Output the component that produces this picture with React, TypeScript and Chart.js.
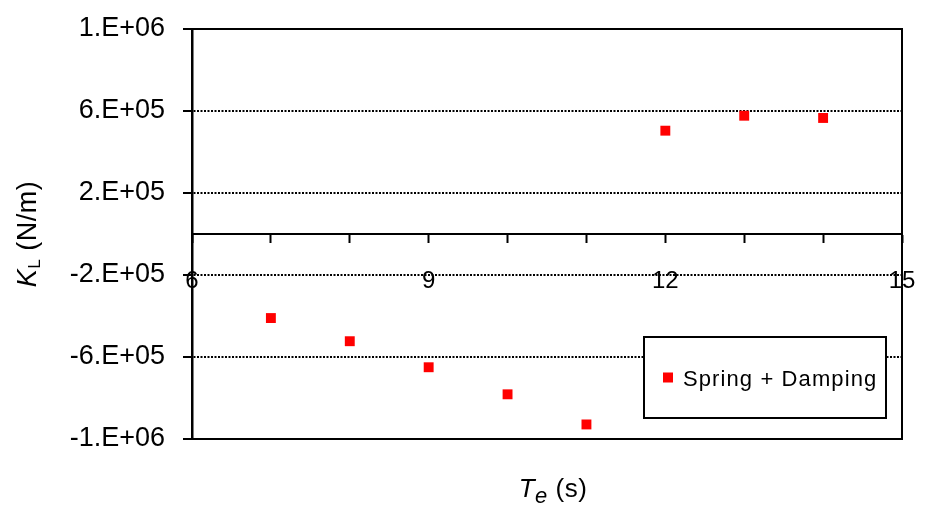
import React, { useEffect, useRef } from 'react';
import { Chart, registerables } from 'chart.js';

Chart.register(...registerables);

// ---- data ----
const periods = [7, 8, 9, 10, 11, 12, 13, 14];
const stiffness = [-4.1e5, -5.23e5, -6.5e5, -7.82e5, -9.29e5, 5.04e5, 5.77e5, 5.66e5];
const seriesLabel = 'Spring + Damping';
const yTickValues = [-1e6, -6e5, -2e5, 2e5, 6e5, 1e6];
const yTickLabels = ['-1.E+06', '-6.E+05', '-2.E+05', '2.E+05', '6.E+05', '1.E+06'];
const xMajorTicks = [6, 9, 12, 15];
const xMin = 6;
const xMax = 15;
const yMin = -1e6;
const yMax = 1e6;

const FONT = '"Liberation Sans", Arial, Helvetica, sans-serif';

const zeroPadding = (s: any) => {
  s.paddingTop = 0;
  s.paddingBottom = 0;
  s.paddingLeft = 0;
  s.paddingRight = 0;
};

const decorPlugin = {
  id: 'decor',
  afterDraw(chart: any) {
    const { ctx, chartArea: a } = chart;
    ctx.save();
    // frame (top, right, bottom)
    ctx.strokeStyle = '#000';
    ctx.lineWidth = 2;
    ctx.setLineDash([]);
    ctx.beginPath();
    ctx.moveTo(a.left, a.top);
    ctx.lineTo(a.right, a.top);
    ctx.lineTo(a.right, a.bottom);
    ctx.lineTo(a.left, a.bottom);
    ctx.stroke();

    // legend box
    const ds = chart.data.datasets[0];
    const bw = 242;
    const bh = 81;
    const bx = a.right - 16 - bw;
    const by = a.bottom - 21 - bh;
    ctx.fillStyle = '#fff';
    ctx.fillRect(bx, by, bw, bh);
    ctx.lineWidth = 2;
    ctx.strokeRect(bx, by, bw, bh);
    const my = by + bh / 2;
    ctx.fillStyle = ds.backgroundColor;
    ctx.fillRect(bx + 19, my - 5, 10, 10);
    ctx.fillStyle = '#000';
    ctx.font = `22px ${FONT}`;
    ctx.textBaseline = 'middle';
    ctx.textAlign = 'left';
    try { (ctx as any).letterSpacing = '1.1px'; } catch (e) { /* ignore */ }
    ctx.fillText(ds.label, bx + 39, my + 2);
    try { (ctx as any).letterSpacing = '0.5px'; } catch (e) { /* ignore */ }

    // x title: T_e (s)
    ctx.textBaseline = 'alphabetic';
    const fMainI = `italic 26px ${FONT}`;
    const fSubI = `italic 22px ${FONT}`;
    const fMain = `26px ${FONT}`;
    ctx.font = fMainI;
    const wT = ctx.measureText('T').width;
    ctx.font = fSubI;
    const we = ctx.measureText('e').width;
    ctx.font = fMain;
    const ws = ctx.measureText(' (s)').width;
    const totalX = wT + we + ws;
    let tx = a.left + a.width / 2 + 6 - totalX / 2;
    const ty = a.bottom + 58;
    ctx.font = fMainI;
    ctx.fillText('T', tx, ty);
    tx += wT;
    ctx.font = fSubI;
    ctx.fillText('e', tx, ty + 6);
    tx += we;
    ctx.font = fMain;
    ctx.fillText(' (s)', tx, ty);

    // y title: K_L (N/m)
    const fYI = `italic 27px ${FONT}`;
    const fYSub = `17px ${FONT}`;
    const fY = `27px ${FONT}`;
    ctx.font = fYI;
    const wK = ctx.measureText('K').width;
    ctx.font = fYSub;
    const wL = ctx.measureText('L').width;
    ctx.font = fY;
    const wN = ctx.measureText(' (N/m)').width;
    const totalY = wK + wL + wN;
    ctx.translate(36, (a.top + a.bottom) / 2);
    ctx.rotate(-Math.PI / 2);
    let yx = -totalY / 2;
    ctx.font = fYI;
    ctx.fillText('K', yx, 0);
    yx += wK;
    ctx.font = fYSub;
    ctx.fillText('L', yx, 4);
    yx += wL;
    ctx.font = fY;
    ctx.fillText(' (N/m)', yx, 0);
    ctx.restore();
  },
};

export default function App() {
  const ref = useRef<HTMLCanvasElement | null>(null);

  useEffect(() => {
    if (!ref.current) return;
    const chart = new Chart(ref.current, {
      type: 'scatter',
      data: {
        datasets: [
          {
            label: seriesLabel,
            data: periods.map((x, i) => ({ x, y: stiffness[i] })),
            pointStyle: 'rect',
            pointRadius: 7,
            pointHoverRadius: 7,
            backgroundColor: '#ff0000',
            borderColor: '#ff0000',
            borderWidth: 0,
            showLine: false,
          },
        ],
      },
      options: {
        responsive: false,
        animation: false,
        devicePixelRatio: 1,
        layout: { padding: { top: 29, right: 27, bottom: 79, left: 0 } },
        plugins: {
          legend: { display: false },
          tooltip: { enabled: false },
          title: { display: false },
        },
        scales: {
          x: {
            type: 'linear',
            position: { y: 0 } as any,
            min: xMin,
            max: xMax,
            afterFit: zeroPadding,
            ticks: {
              stepSize: 1,
              autoSkip: false,
              maxRotation: 0,
              padding: 25,
              color: '#000',
              font: { family: FONT, size: 24 },
              callback: (v: any) => (xMajorTicks.includes(Number(v)) ? String(v) : ''),
            },
            grid: {
              drawOnChartArea: false,
              drawTicks: true,
              tickLength: 8,
              tickWidth: 2,
              tickColor: '#000',
            },
            border: { display: true, color: '#000', width: 2 },
          },
          y: {
            type: 'linear',
            position: 'left',
            min: yMin,
            max: yMax,
            afterBuildTicks: (s: any) => {
              s.ticks = yTickValues.map((value) => ({ value }));
            },
            afterFit: (s: any) => {
              s.width = 192;
              zeroPadding(s);
            },
            ticks: {
              padding: 18,
              color: '#000',
              font: { family: FONT, size: 27 },
              callback: (_v: any, i: number) => yTickLabels[i],
            },
            grid: {
              color: (c: any) =>
                c.tick && Math.abs(c.tick.value) >= 1e6 ? 'rgba(0,0,0,0)' : '#000',
              lineWidth: 2,
              drawTicks: true,
              tickLength: 9,
              tickWidth: 2,
              tickColor: '#000',
            },
            border: { display: true, color: '#000', width: 2.5, dash: [2, 1.5] },
          },
        },
      },
      plugins: [decorPlugin],
    });
    return () => chart.destroy();
  }, []);

  return (
    <div style={{ position: 'absolute', left: 0, top: 0, width: 929, height: 518, background: '#fff' }}>
      <canvas ref={ref} width={929} height={518} style={{ display: 'block' }} />
    </div>
  );
}
